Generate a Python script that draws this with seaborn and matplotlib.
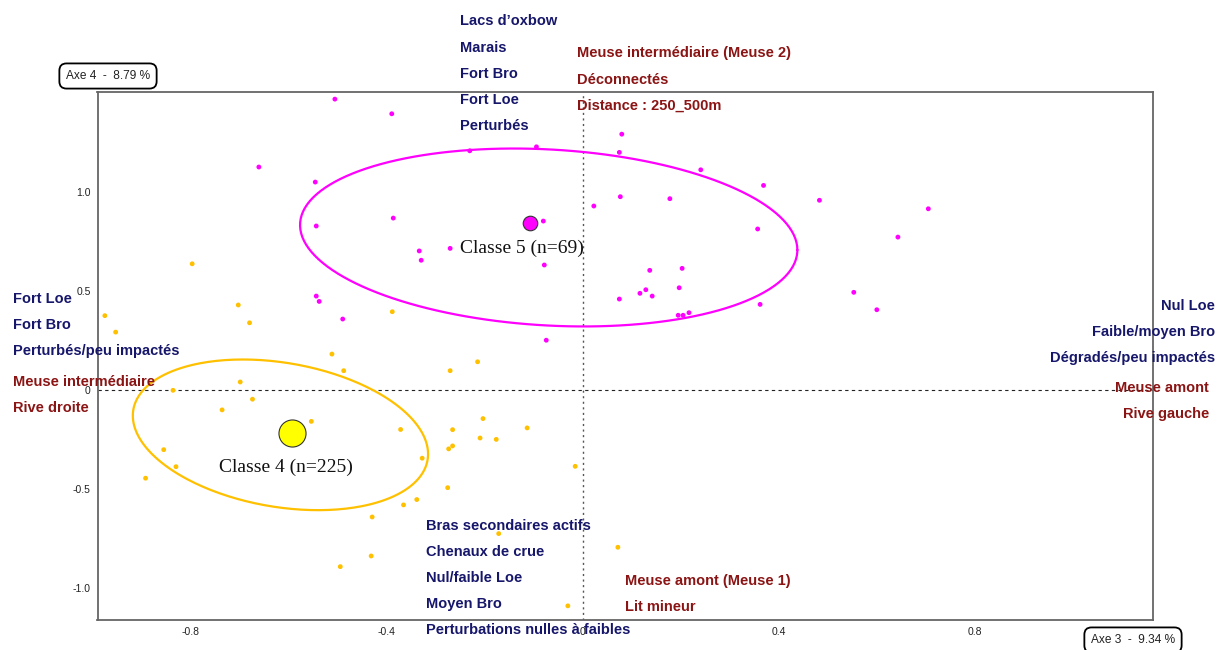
import numpy as np
import pandas as pd
import matplotlib.pyplot as plt
import seaborn as sns

# --- Individuals on the factorial plane (Axe 3 x Axe 4) ---
c5_x = [-0.505, -0.389, -0.660, -0.545, -0.386, 0.080, 0.075, 0.241, 0.369, 0.483,
        0.077, 0.178, 0.023, -0.094, -0.230, 0.705, 0.357, -0.333, -0.329, -0.270,
        -0.080, -0.078, 0.137, 0.203, 0.129, 0.117, 0.142, 0.197, 0.075, 0.195,
        0.205, 0.217, 0.362, -0.074, 0.643, 0.553, 0.600, -0.543, -0.543, -0.537,
        -0.489]
c5_y = [1.471, 1.397, 1.128, 1.052, 0.870, 1.294, 1.202, 1.114, 1.035, 0.960,
        0.978, 0.968, 0.931, 1.230, 1.210, 0.917, 0.815, 0.704, 0.657, 0.717,
        0.855, 0.633, 0.606, 0.616, 0.508, 0.490, 0.476, 0.518, 0.461, 0.379,
        0.379, 0.392, 0.434, 0.253, 0.774, 0.495, 0.407, 0.830, 0.476, 0.449,
        0.360]
c4_x = [-0.796, -0.974, -0.952, -0.702, -0.679, -0.388, -0.511, -0.487, -0.698, -0.835,
        -0.673, -0.735, -0.553, -0.214, -0.270, -0.203, -0.265, -0.113, -0.371, -0.209,
        -0.176, -0.273, -0.265, -0.327, -0.015, -0.275, -0.365, -0.338, -0.171, 0.072,
        -0.030, -0.854, -0.829, -0.891, -0.429, -0.431, -0.494]
c4_y = [0.639, 0.377, 0.294, 0.431, 0.341, 0.397, 0.183, 0.099, 0.042, 0.000,
        -0.045, -0.099, -0.157, 0.144, 0.099, -0.143, -0.199, -0.190, -0.198, -0.241,
        -0.248, -0.296, -0.281, -0.343, -0.384, -0.492, -0.579, -0.552, -0.724, -0.793,
        -1.089, -0.300, -0.386, -0.444, -0.640, -0.837, -0.891]

# class centroids and ellipse parameters (centre, x half-width, y coupling, y half-height)
classes = ['Classe 4', 'Classe 5']
class_n = [225, 69]
centroid_x = [-0.592, -0.107]
centroid_y = [-0.216, 0.845]
ell_cx = [-0.616, -0.069]
ell_cy = [-0.225, 0.772]
ell_rx = [0.301, 0.507]
ell_k = [-0.097, -0.063]
ell_m = [0.368, 0.445]
label_x = [-0.741, -0.250]
label_y = [-0.387, 0.719]
colors = ['#ffc000', '#ff00ff']
centroid_colors = ['#ffff00', '#ff00ff']

# modality labels around the plot
top_navy = ["Lacs d\u2019oxbow", 'Marais', 'Fort Bro', 'Fort Loe', 'Perturbés']
top_red = ['Meuse intermédiaire (Meuse 2)', 'Déconnectés', 'Distance : 250_500m']
left_navy = ['Fort Loe', 'Fort Bro', 'Perturbés/peu impactés']
left_red = ['Meuse intermédiaire', 'Rive droite']
right_navy = ['Nul Loe', 'Faible/moyen Bro', 'Dégradés/peu impactés']
right_red = ['Meuse amont', 'Rive gauche']
bottom_navy = ['Bras secondaires actifs', 'Chenaux de crue', 'Nul/faible Loe',
               'Moyen Bro', 'Perturbations nulles à faibles']
bottom_red = ['Meuse amont (Meuse 1)', 'Lit mineur']

xticks = [-0.8, -0.4, 0, 0.4, 0.8]
yticks = [1.0, 0.5, 0, -0.5, -1.0]

points = pd.DataFrame({
    'x': c4_x + c5_x,
    'y': c4_y + c5_y,
    'classe': ['Classe 4'] * len(c4_x) + ['Classe 5'] * len(c5_x),
})

sns.set_style('white')
plt.rcParams['font.family'] = ['Liberation Sans', 'DejaVu Sans']

W, H = 1218, 650
fig = plt.figure(figsize=(W / 100, H / 100), dpi=100)
ax = fig.add_axes([97.5 / W, 1 - 620.3 / H, (1152.7 - 97.5) / W, (620.3 - 92) / H])

ax.axvline(0, color='#555555', lw=1.0, ls=(0, (1.5, 2.5)), zorder=1)
ax.axhline(0, color='#222222', lw=0.8, ls=(0, (3, 3)), zorder=1)

sns.scatterplot(data=points, x='x', y='y', hue='classe',
                palette=dict(zip(classes, colors)), s=12, linewidth=0,
                legend=False, ax=ax, zorder=3)

t = np.linspace(0, 2 * np.pi, 300)
for i, cl in enumerate(classes):
    ex = ell_cx[i] + ell_rx[i] * np.cos(t)
    ey = ell_cy[i] + ell_k[i] * np.cos(t) + ell_m[i] * np.sin(t)
    ax.plot(ex, ey, color=colors[i], lw=1.6, zorder=2)
    size = 380 if cl == 'Classe 4' else 110
    ax.scatter(centroid_x[i], centroid_y[i], s=size, color=centroid_colors[i],
               edgecolors='#333333', linewidths=0.8, zorder=4)
    ax.text(label_x[i], label_y[i], f'{cl} (n={class_n[i]})',
            family='Liberation Serif', fontsize=14, va='center', ha='left',
            color='#111111', zorder=5)

ax.set_xlim(-0.989, 1.1625)
ax.set_ylim(-1.162, 1.507)
ax.set_xticks(xticks)
ax.set_xticklabels(['0' if v == 0 else f'{v:.1f}' for v in xticks])
ax.set_yticks(yticks)
ax.set_yticklabels(['0' if v == 0 else f'{v:.1f}' for v in yticks])
ax.tick_params(direction='inout', length=6, width=1, color='#333333',
               labelsize=7.5, pad=2, labelcolor='#222222')
ax.set_xlabel('')
ax.set_ylabel('')
for sp in ax.spines.values():
    sp.set_color('#666666')
    sp.set_linewidth(1.3)

navy = '#16166b'
red = '#8b1414'
lab = dict(fontsize=10.5, fontweight='bold', va='center')


def put(lines, x, y0, color, ha='left', step=26.2):
    for j, s in enumerate(lines):
        fig.text(x / W, 1 - (y0 + j * step) / H, s, color=color, ha=ha, **lab)


put(top_navy, 460, 21.3, navy)
put(top_red, 577, 53.3, red)
put(left_navy, 13, 299, navy)
put(left_red, 13, 382.3, red)
put(right_navy, 1215, 306, navy, ha='right')
put(right_red, 1209, 388, red, ha='right')
put(bottom_navy, 426, 525.7, navy)
put(bottom_red, 625, 580.7, red)

box = dict(boxstyle='round,pad=0.55,rounding_size=0.6', fc='white', ec='black', lw=1.3)
fig.text(108 / W, 1 - 76 / H, 'Axe 4  -  8.79 %', fontsize=8.6, ha='center',
         va='center', color='#222222', bbox=box)
fig.text(1133 / W, 1 - 640 / H, 'Axe 3  -  9.34 %', fontsize=8.6, ha='center',
         va='center', color='#222222', bbox=box)

fig.savefig('out.png', dpi=100)
